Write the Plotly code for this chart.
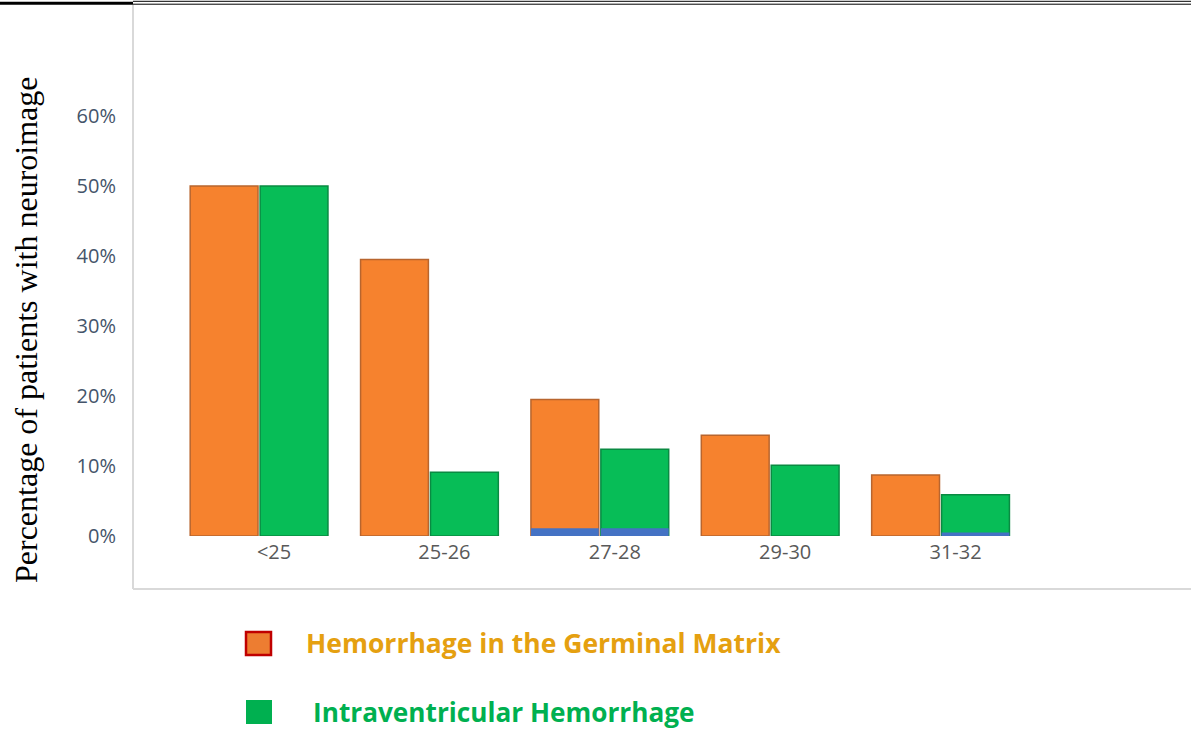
import plotly.graph_objects as go

categories = ["<25", "25-26", "27-28", "29-30", "31-32"]
germinal_matrix = [0.500, 0.395, 0.195, 0.144, 0.087]
intraventricular = [0.500, 0.091, 0.124, 0.101, 0.059]
base_under_gm = [0.0, 0.0, 0.011, 0.0, 0.0]
base_under_ivh = [0.0, 0.0, 0.011, 0.0, 0.005]
y_ticks = [0, 0.1, 0.2, 0.3, 0.4, 0.5, 0.6]
y_tick_labels = ["0%", "10%", "20%", "30%", "40%", "50%", "60%"]

ORANGE = "#F6822E"
ORANGE_LINE = "#B8652E"
GREEN = "#07BD57"
GREEN_LINE = "#0A8A42"
BLUE = "#4472C4"

fig = go.Figure()
fig.add_trace(go.Bar(x=categories, y=germinal_matrix, offsetgroup="gm",
                     marker=dict(color=ORANGE, line=dict(color=ORANGE_LINE, width=1.5)),
                     name="Hemorrhage in the Germinal Matrix", showlegend=False))
fig.add_trace(go.Bar(x=categories, y=base_under_gm, offsetgroup="gm",
                     marker=dict(color=BLUE, line=dict(width=0)), showlegend=False))
fig.add_trace(go.Bar(x=categories, y=intraventricular, offsetgroup="ivh",
                     marker=dict(color=GREEN, line=dict(color=GREEN_LINE, width=1.5)),
                     name="Intraventricular Hemorrhage", showlegend=False))
fig.add_trace(go.Bar(x=categories, y=base_under_ivh, offsetgroup="ivh",
                     marker=dict(color=BLUE, line=dict(width=0)), showlegend=False))

W, H = 1191, 729
L, T, B = 133, 5, 193
plot_h = H - T - B
plot_w = W - L

def px_x(p):
    return (p - L) / plot_w

def px_y(p):
    return (H - B - p) / plot_h

fig.update_layout(
    width=W, height=H,
    margin=dict(l=L, r=0, t=T, b=B),
    paper_bgcolor="white", plot_bgcolor="white",
    barmode="group", bargap=0.179, bargroupgap=0.03,
    showlegend=False,
    xaxis=dict(range=[-0.74, 5.47], showgrid=False, zeroline=False, showline=False,
               ticks="", tickfont=dict(family="Open Sans", size=20, color="#595959"),
               ticklabelshift=15, ticklabelstandoff=2, fixedrange=True),
    yaxis=dict(range=[0, 0.7586], showgrid=False, zeroline=False, showline=False,
               tickvals=y_ticks, ticktext=y_tick_labels, ticks="",
               tickfont=dict(family="Open Sans", size=20, color="#44546A"),
               ticklabelstandoff=16, fixedrange=True),
)

shapes = [
    # chart area border (left and bottom)
    dict(type="line", xref="paper", yref="paper", x0=0, x1=0, y0=px_y(5), y1=px_y(589),
         line=dict(color="#D9D9D9", width=2)),
    dict(type="line", xref="paper", yref="paper", x0=0, x1=1, y0=px_y(589), y1=px_y(589),
         line=dict(color="#D9D9D9", width=2)),
    # top page rules
    dict(type="line", xref="paper", yref="paper", x0=px_x(0), x1=0, y0=px_y(3.3), y1=px_y(3.3),
         line=dict(color="black", width=3)),
    dict(type="line", xref="paper", yref="paper", x0=0, x1=1, y0=px_y(1.3), y1=px_y(1.3),
         line=dict(color="black", width=1)),
    dict(type="line", xref="paper", yref="paper", x0=0, x1=1, y0=px_y(4.2), y1=px_y(4.2),
         line=dict(color="black", width=1)),
    # legend squares
    dict(type="rect", xref="paper", yref="paper", x0=px_x(246), x1=px_x(271),
         y0=px_y(655), y1=px_y(632), fillcolor="#ED7D31", line=dict(color="#C00000", width=2.5)),
    dict(type="rect", xref="paper", yref="paper", x0=px_x(246), x1=px_x(272),
         y0=px_y(724), y1=px_y(700), fillcolor="#00B050", line=dict(width=0)),
]
fig.update_layout(shapes=shapes)

annotations = [
    dict(text="Percentage of patients with neuroimage", xref="paper", yref="paper",
         x=px_x(26), y=px_y(330), xanchor="center", yanchor="middle", textangle=-90,
         showarrow=False, font=dict(family="Liberation Serif", size=32, color="black")),
    dict(text="<b>Hemorrhage in the Germinal Matrix</b>", xref="paper", yref="paper",
         x=px_x(304), y=px_y(643), xanchor="left", yanchor="middle", showarrow=False,
         font=dict(family="Open Sans", size=26.5, color="#E5A010")),
    dict(text="<b>Intraventricular Hemorrhage</b>", xref="paper", yref="paper",
         x=px_x(311), y=px_y(712), xanchor="left", yanchor="middle", showarrow=False,
         font=dict(family="Open Sans", size=26.2, color="#00B050")),
]
fig.update_layout(annotations=annotations)

fig.write_html("out.html", config={"displayModeBar": False},
               post_script="document.body.style.margin='0';document.body.style.overflow='hidden';")
